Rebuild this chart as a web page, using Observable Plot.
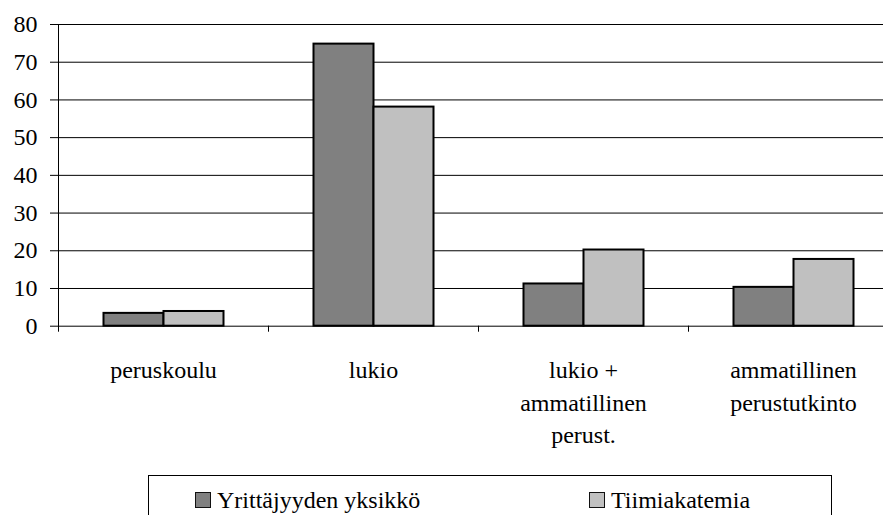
<!DOCTYPE html>
<html>
<head>
<meta charset="utf-8">
<script src="https://cdn.jsdelivr.net/npm/d3@7"></script>
<script src="https://cdn.jsdelivr.net/npm/@observablehq/plot@0.6"></script>
<style>
  html, body { margin: 0; padding: 0; background: #fff; }
  #wrap { position: relative; width: 883px; height: 515px; overflow: hidden; font-family: "Liberation Serif", "Tinos", "DejaVu Serif", serif; }
  #wrap svg text { font-family: "Liberation Serif", "Tinos", "DejaVu Serif", serif; }
  #legend { position: absolute; left: 148px; top: 475px; width: 684px; height: 60px; border: 1px solid #000; box-sizing: border-box; }
  .item { position: absolute; top: 10px; display: flex; align-items: center; font-size: 24px; line-height: 28px; color: #000; }
  .sw { width: 14px; height: 14px; border: 1.5px solid #111; margin-right: 6px; box-sizing: content-box; }
</style>
</head>
<body>
<div id="wrap"></div>
<script>
const categories = ["peruskoulu", "lukio", "lukio + ammatillinen perust.", "ammatillinen perustutkinto"];
const tickLabels = ["peruskoulu", "lukio", "lukio +\nammatillinen\nperust.", "ammatillinen\nperustutkinto"];
const seriesNames = ["Yrittäjyyden yksikkö", "Tiimiakatemia"];
const yrittajyydenYksikko = [3.4, 74.8, 11.2, 10.3];
const tiimiakatemia = [3.9, 58.1, 20.2, 17.7];
const yTicks = [0, 10, 20, 30, 40, 50, 60, 70, 80];
const seriesColors = ["#808080", "#C0C0C0"];

const data = [];
categories.forEach((c, i) => {
  data.push({cat: c, series: seriesNames[0], value: yrittajyydenYksikko[i]});
  data.push({cat: c, series: seriesNames[1], value: tiimiakatemia[i]});
});

const fxRange = [57.5, 897.5];
const fxStep = (fxRange[1] - fxRange[0]) / categories.length;
const labelOf = new Map(categories.map((c, i) => [c, tickLabels[i]]));
const serif = "'Liberation Serif', 'Tinos', 'DejaVu Serif', serif";

const chart = Plot.plot({
  width: 883,
  height: 470,
  marginLeft: 57.5,
  marginRight: 0,
  marginTop: 24,
  marginBottom: 144.3,
  style: {fontFamily: serif, fontSize: "24px", color: "#000", background: "#fff", overflow: "visible"},
  fx: {domain: categories, range: fxRange, padding: 0, axis: null, label: null},
  x: {domain: seriesNames, paddingInner: 0, paddingOuter: 0.727, axis: null, label: null},
  y: {domain: [0, 80], axis: null, label: null},
  color: {domain: seriesNames, range: seriesColors},
  marks: [
    Plot.ruleY(yTicks, {stroke: "#000", strokeWidth: 1}),
    Plot.barY(data, {fx: "cat", x: "series", y: "value", fill: "series", stroke: "#000", strokeWidth: 2}),
    Plot.frame({anchor: "left", facetAnchor: "left", stroke: "#000", strokeWidth: 1}),
    Plot.axisY({ticks: yTicks, tickSize: 8, tickPadding: 13, fontSize: 24, stroke: "#000", fontFamily: serif}),
    Plot.axisFx({anchor: "bottom", tickSize: 0, tickPadding: 29, fontSize: 24, lineHeight: 1.35, tickFormat: d => labelOf.get(d), fill: "#000", fontFamily: serif}),
    Plot.axisFx({anchor: "bottom", tickSize: 6, text: null, dx: -fxStep / 2, stroke: "#000"})
  ]
});

const wrap = document.getElementById("wrap");
wrap.appendChild(chart);

const legend = document.createElement("div");
legend.id = "legend";
const lefts = [46, 440];
seriesNames.forEach((s, i) => {
  const it = document.createElement("div");
  it.className = "item";
  it.style.left = lefts[i] + "px";
  const sw = document.createElement("span");
  sw.className = "sw";
  sw.style.background = seriesColors[i];
  const tx = document.createElement("span");
  tx.textContent = s;
  it.appendChild(sw);
  it.appendChild(tx);
  legend.appendChild(it);
});
wrap.appendChild(legend);
</script>
</body>
</html>
